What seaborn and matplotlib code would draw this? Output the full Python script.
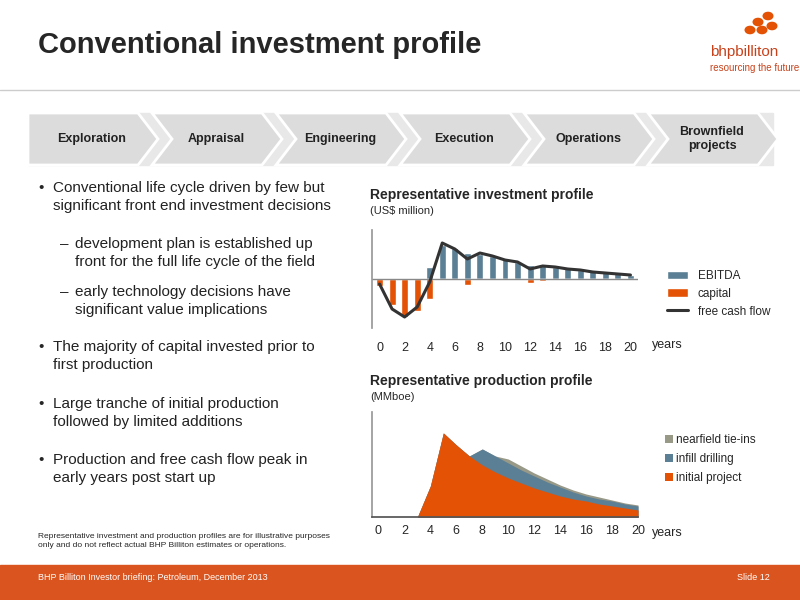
import matplotlib
matplotlib.use("Agg")
import matplotlib.pyplot as plt
from matplotlib.patches import Polygon, Rectangle
from matplotlib.lines import Line2D
import seaborn as sns

sns.set_theme(style="white")
plt.rcParams['font.family'] = ['Liberation Sans', 'DejaVu Sans']

# investment profile (US$ million, arbitrary scale)
years = list(range(21))
ebitda = [0, 0, 0, 0, 12, 34, 31, 26, 25, 23, 20, 17, 14, 14, 12, 11, 9, 8, 7, 6, 4]
capital = [-7, -26, -38, -32, -20, 0, 0, -6, 0, 0, 0, 0, -4, -2, 0, 0, 0, 0, 0, 0, 0]
fcf = [-5, -30, -38, -28, -3, 36, 30, 20, 26, 23, 19, 17, 10, 13, 12, 10, 9, 7, 6, 5, 4]

# production profile (MMboe, cumulative stack heights)
initial = [0, 0, 0, 0, 31, 84, 72, 61, 52, 45, 39, 34, 29, 25, 21, 18, 16, 13, 11, 9, 7]
infill = [0, 0, 0, 0, 31, 84, 72, 61, 68, 61, 54, 47, 41, 35, 30, 25, 21, 18, 16, 13, 11]
nearfield = [0, 0, 0, 0, 31, 84, 72, 61, 68, 61, 58, 51, 44, 38, 32, 27, 23, 20, 17, 14, 12]

stages = ["Exploration", "Appraisal", "Engineering", "Execution", "Operations", "Brownfield\nprojects"]
bullets = [
    (0, "Conventional life cycle driven by few but\nsignificant front end investment decisions", 181),
    (1, "development plan is established up\nfront for the full life cycle of the field", 237),
    (1, "early technology decisions have\nsignificant value implications", 285),
    (0, "The majority of capital invested prior to\nfirst production", 340),
    (0, "Large tranche of initial production\nfollowed by limited additions", 397),
    (0, "Production and free cash flow peak in\nearly years post start up", 453),
]

BLUE = "#5b7f95"
ORANGE = "#e35205"
GREY = "#999988"

fig = plt.figure(figsize=(8, 6), dpi=100)
fig.patch.set_facecolor("white")

def fx(x): return x / 800
def fy(y): return 1 - y / 600

# header
fig.text(fx(38), fy(45), "Conventional investment profile", fontsize=21, fontweight="bold", va="center")
fig.add_artist(Line2D([0, 1], [fy(90), fy(90)], color="#cccccc", lw=1))
fig.text(fx(710), fy(52), "bhpbilliton", fontsize=11, color="#c7421b", va="center")
fig.text(fx(710), fy(68), "resourcing the future", fontsize=7, color="#c7421b", va="center")
for cx, cy in [(758, 22), (768, 16), (750, 30), (762, 30), (772, 26)]:
    fig.add_artist(plt.Circle((fx(cx), fy(cy)), 0.006, color=ORANGE, transform=fig.transFigure))

# chevrons
fig.add_artist(Rectangle((fx(28), fy(165)), fx(745), fy(113) - fy(165), color="#e8e8e8", transform=fig.transFigure, zorder=0))
w = 124
for i, s in enumerate(stages):
    x0 = 28 + i * w
    pts = [(x0, 113), (x0 + w - 14, 113), (x0 + w + 6, 139), (x0 + w - 14, 165), (x0, 165), (x0 + 20, 139)]
    if i == 0:
        pts[-1] = (x0, 139)
    fig.add_artist(Polygon([(fx(a), fy(b)) for a, b in pts], closed=True, facecolor="#dcdcdc",
                           edgecolor="white", lw=2, transform=fig.transFigure))
    fig.text(fx(x0 + w / 2 + 2), fy(139), s, fontsize=9, fontweight="bold", ha="center", va="center", color="#222222")

# bullets
for lvl, txt, y in bullets:
    x = 38 if lvl == 0 else 60
    fig.text(fx(x), fy(y), "•" if lvl == 0 else "–", fontsize=11, va="top")
    fig.text(fx(x + 15), fy(y), txt, fontsize=11, va="top", linespacing=1.35, color="#222222")
fig.text(fx(38), fy(541), "Representative investment and production profiles are for illustrative purposes\n"
         "only and do not reflect actual BHP Billiton estimates or operations.", fontsize=6, va="center",
         linespacing=1.4)

# footer
fig.add_artist(Rectangle((0, 0), 1, fy(565), color="#d9541e", transform=fig.transFigure))
fig.text(fx(38), fy(578), "BHP Billiton Investor briefing: Petroleum, December 2013", fontsize=6.5, color="white", va="center")
fig.text(fx(770), fy(578), "Slide 12", fontsize=6.5, color="white", va="center", ha="right")

# investment chart
fig.text(fx(370), fy(195), "Representative investment profile", fontsize=10, fontweight="bold", va="center")
fig.text(fx(370), fy(211), "(US$ million)", fontsize=8, va="center")
ax1 = fig.add_axes([fx(372), fy(328), fx(638 - 372), fy(230) - fy(328)])
ax1.bar(years, ebitda, width=0.55, color=BLUE, label="EBITDA")
ax1.bar(years, capital, width=0.55, color=ORANGE, label="capital")
ax1.axhline(0, color="#888888", lw=1)
sns.lineplot(x=years, y=fcf, ax=ax1, color="#333333", lw=2.2, label="free cash flow")
ax1.set_xlim(-0.6, 20.6)
ax1.set_ylim(-49, 49)
ax1.set_yticks([])
ax1.set_xticks(range(0, 21, 2))
ax1.tick_params(axis="x", pad=10, labelsize=9, length=0)
for s in ["top", "right", "bottom"]:
    ax1.spines[s].set_visible(False)
ax1.spines["left"].set_color("#999999")
h, l = ax1.get_legend_handles_labels()
order = [l.index("EBITDA"), l.index("capital"), l.index("free cash flow")]
ax1.legend([h[i] for i in order], [l[i] for i in order], loc="center left", bbox_to_anchor=(1.07, 0.35),
           frameon=False, fontsize=8.5, handlelength=1.8)
fig.text(fx(652), fy(345), "years", fontsize=9, va="center")

# production chart
fig.text(fx(370), fy(381), "Representative production profile", fontsize=10, fontweight="bold", va="center")
fig.text(fx(370), fy(397), "(MMboe)", fontsize=8, va="center")
ax2 = fig.add_axes([fx(372), fy(517), fx(638 - 372), fy(412) - fy(517)])
ax2.fill_between(years, nearfield, color=GREY, lw=0, label="nearfield tie-ins")
ax2.fill_between(years, infill, color=BLUE, lw=0, label="infill drilling")
ax2.fill_between(years, initial, color=ORANGE, lw=0, label="initial project")
ax2.set_xlim(-0.5, 20)
ax2.set_ylim(0, 105)
ax2.set_yticks([])
ax2.set_xticks(range(0, 21, 2))
ax2.tick_params(axis="x", pad=6, labelsize=9, length=0)
for s in ["top", "right"]:
    ax2.spines[s].set_visible(False)
ax2.spines["left"].set_color("#999999")
ax2.spines["bottom"].set_color("#555555")
ax2.legend(loc="center left", bbox_to_anchor=(1.06, 0.55), frameon=False, fontsize=8.5,
           handlelength=0.7, handleheight=0.7, handletextpad=0.3, labelspacing=0.6)
fig.text(fx(652), fy(533), "years", fontsize=9, va="center")

fig.savefig("out.png", dpi=100)
